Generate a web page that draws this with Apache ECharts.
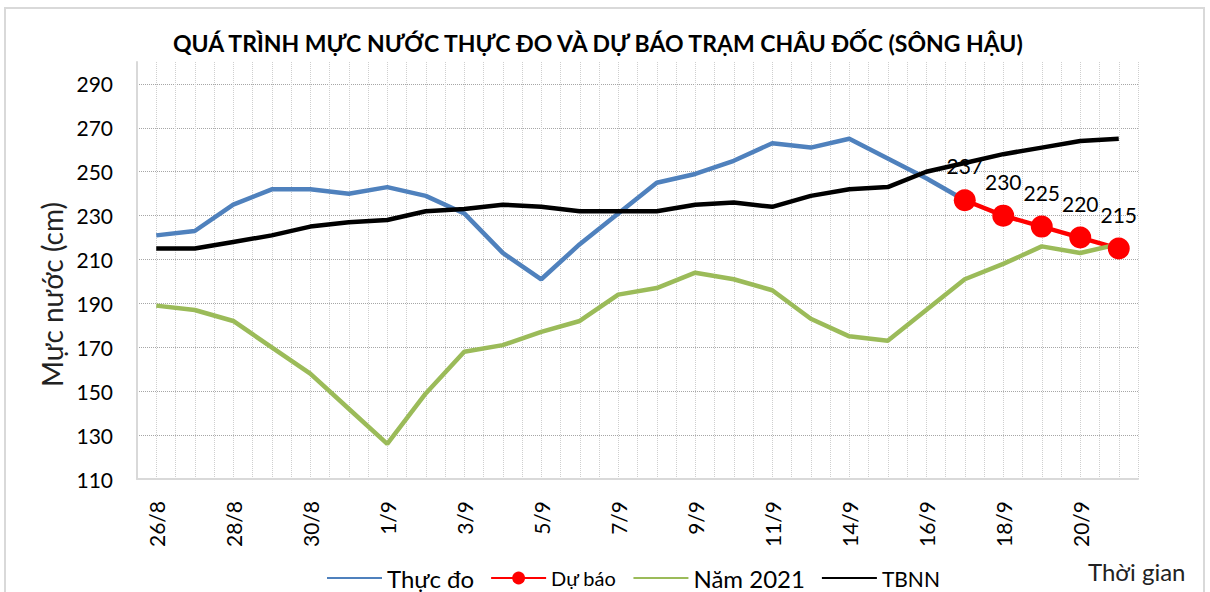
<!DOCTYPE html>
<html>
<head>
<meta charset="utf-8">
<script src="https://cdn.jsdelivr.net/npm/echarts@6/dist/echarts.min.js"></script>
<style>
    html, body { margin: 0; padding: 0; background: #fff; }
    #chart { width: 1210px; height: 592px; }
</style>
</head>
<body>
<div id="chart"></div>
<script>
// ngày đo
var categories = ["26/8", "27/8", "28/8", "29/8", "30/8", "31/8", "1/9", "2/9", "3/9", "4/9",
    "5/9", "6/9", "7/9", "8/9", "9/9", "10/9", "11/9", "12/9", "14/9", "15/9",
    "16/9", "17/9", "18/9", "19/9", "20/9", "21/9"];

var thucDo = [221, 223, 235, 242, 242, 240, 243, 239, 231, 213,
    201, 217, 231, 245, 249, 255, 263, 261, 265, 256,
    247, 237, null, null, null, null];

var duBao = [null, null, null, null, null, null, null, null, null, null,
    null, null, null, null, null, null, null, null, null, null,
    null, 237, 230, 225, 220, 215];

var nam2021 = [189, 187, 182, 170, 158, 142, 126, 149, 168, 171,
    177, 182, 194, 197, 204, 201, 196, 183, 175, 173,
    187, 201, 208, 216, 213, 217];

var tbnn = [215, 215, 218, 221, 225, 227, 228, 232, 233, 235,
    234, 232, 232, 232, 235, 236, 234, 239, 242, 243,
    250, 254, 258, 261, 264, 265];

var yTicks = [110, 130, 150, 170, 190, 210, 230, 250, 270, 290];

var FONT = "Lato";
var NO_SYMBOL = "rgba(0,0,0,0)";

var chart = echarts.init(document.getElementById("chart"), null, { renderer: "svg" });

chart.setOption({
    animation: false,
    title: {
        text: "QUÁ TRÌNH MỰC NƯỚC THỰC ĐO VÀ DỰ BÁO TRẠM CHÂU ĐỐC (SÔNG HẬU)",
        left: 168,
        top: 26,
        textStyle: { fontFamily: FONT, fontSize: 23, fontWeight: "bold", color: "#000" }
    },
    grid: { left: 137, right: 72, top: 62, bottom: 113, containLabel: false },
    legend: {
        left: 321,
        top: 561,
        itemWidth: 55,
        itemHeight: 16,
        itemGap: 16,
        textStyle: { fontFamily: FONT, fontSize: 24, color: "#000" },
        data: [
            { name: "Thực đo" },
            { name: "Dự báo", textStyle: { fontSize: 20 } },
            { name: "Năm 2021" },
            { name: "TBNN", textStyle: { fontSize: 21 } }
        ]
    },
    graphic: [
        {
            type: "rect",
            shape: { x: 5, y: 8, width: 1199, height: 600 },
            style: { fill: "none", stroke: "#d9d9d9", lineWidth: 2 },
            silent: true
        },
        {
            type: "text",
            left: 1088,
            top: 559,
            style: { text: "Thời gian", fontFamily: FONT, fontSize: 24, fill: "#222" }
        }
    ],
    xAxis: [
        {
            type: "category",
            data: categories,
            boundaryGap: true,
            axisLine: { lineStyle: { color: "#d9d9d9", width: 2 } },
            axisTick: { show: false },
            splitLine: { show: false },
            axisLabel: {
                interval: 1,
                rotate: 90,
                margin: 22,
                fontFamily: FONT,
                fontSize: 21,
                color: "#000"
            }
        },
        {
            // chỉ để vẽ lưới dọc (mỗi nửa ô)
            type: "value",
            min: 0,
            max: categories.length * 2,
            interval: 1,
            position: "bottom",
            axisLine: { show: false },
            axisTick: { show: false },
            axisLabel: { show: false },
            splitLine: { show: true, lineStyle: { color: "#cfcfcf", type: "dotted", width: 1 } }
        }
    ],
    yAxis: {
        type: "value",
        min: 110,
        max: 300,
        interval: 10,
        name: "Mực nước (cm)",
        nameLocation: "middle",
        nameGap: 68,
        nameTextStyle: { fontFamily: FONT, fontSize: 28, color: "#222", padding: [0, 48, 0, 0] },
        axisLine: { show: true, lineStyle: { color: "#d9d9d9", width: 2 } },
        axisTick: { show: false },
        axisLabel: {
            margin: 24,
            fontFamily: FONT,
            fontSize: 21,
            color: "#000",
            formatter: function (v) {
                return yTicks.indexOf(v) >= 0 ? String(v) : "";
            }
        },
        splitLine: {
            show: true,
            showMinLine: true,
            lineStyle: { color: ["#a6a6a6", "rgba(0,0,0,0)"], type: "dotted", width: 1 }
        }
    },
    series: [
        {
            name: "Thực đo",
            type: "line",
            data: thucDo,
            symbol: "none",
            lineStyle: { color: "#4f81bd", width: 4.5 },
            itemStyle: { color: NO_SYMBOL }
        },
        {
            name: "Dự báo",
            type: "line",
            data: duBao,
            symbol: "circle",
            symbolSize: 22,
            lineStyle: { color: "#ff0000", width: 4.5 },
            itemStyle: { color: "#ff0000" },
            label: {
                show: true,
                position: "top",
                distance: 13,
                fontFamily: FONT,
                fontSize: 21,
                color: "#000"
            }
        },
        {
            name: "Năm 2021",
            type: "line",
            data: nam2021,
            symbol: "none",
            lineStyle: { color: "#9bbb59", width: 4.5 },
            itemStyle: { color: NO_SYMBOL }
        },
        {
            name: "TBNN",
            type: "line",
            data: tbnn,
            symbol: "none",
            lineStyle: { color: "#000", width: 4.5 },
            itemStyle: { color: NO_SYMBOL }
        }
    ]
});
</script>
</body>
</html>
